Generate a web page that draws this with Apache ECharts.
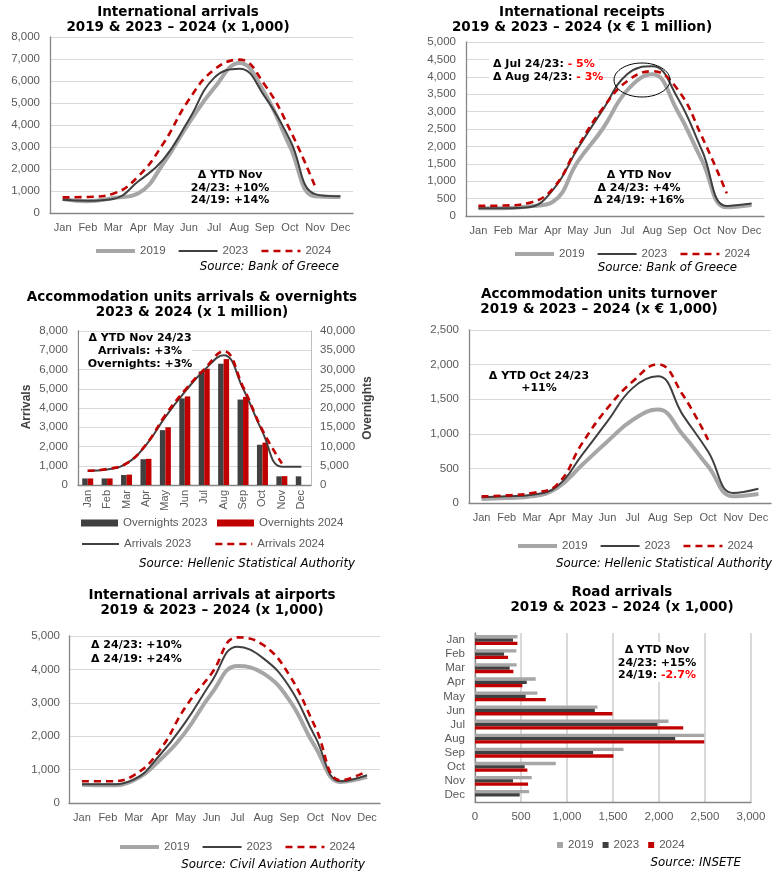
<!DOCTYPE html>
<html><head><meta charset="utf-8">
<script src="https://cdn.jsdelivr.net/npm/echarts/dist/echarts.min.js"></script>
<style>
html,body{margin:0;padding:0;background:#fff;width:778px;height:876px;overflow:hidden;}
.p{position:absolute;}
</style></head><body>
<div id="c1" class="p" style="left:0;top:0;width:389px;height:285px"></div>
<div id="c2" class="p" style="left:389px;top:0;width:389px;height:285px"></div>
<div id="c3" class="p" style="left:0;top:285px;width:389px;height:295px"></div>
<div id="c4" class="p" style="left:389px;top:285px;width:389px;height:295px"></div>
<div id="c5" class="p" style="left:0;top:580px;width:389px;height:296px"></div>
<div id="c6" class="p" style="left:389px;top:580px;width:389px;height:296px"></div>
<script>
// ---------- DATA ----------
const months = ['Jan','Feb','Mar','Apr','May','Jun','Jul','Aug','Sep','Oct','Nov','Dec'];

// International arrivals (x 1,000)
const intlArr2019 = [636, 530, 680, 900, 2270, 4090, 5680, 6820, 5450, 3030, 760, 730];
const intlArr2023 = [600, 560, 640, 1440, 2450, 4240, 6140, 6560, 5300, 3330, 860, 760];
const intlArr2024 = [710, 730, 880, 1670, 3180, 5150, 6515, 6970, 5830, 3790, 1200];

// International receipts (x EUR 1 million)
const receipts2019 = [220, 220, 270, 410, 1560, 2500, 3620, 4070, 3040, 1600, 250, 315];
const receipts2023 = [220, 220, 250, 750, 1940, 3040, 4080, 4300, 3420, 1890, 290, 360];
const receipts2024 = [290, 300, 370, 790, 1990, 3090, 3880, 4160, 3660, 2280, 650];

// Accommodation units arrivals (left axis) & overnights (right axis)
const accArrivals2023 = [743, 810, 1120, 2070, 3540, 4840, 5960, 6740, 5010, 2760, 950, 950];
const accArrivals2024 = [740, 830, 1120, 2100, 3630, 4920, 6010, 6950, 5100, 2850, 1120];
const accOvernights2023 = [1700, 1700, 2600, 6700, 14250, 22500, 29500, 31500, 22200, 10450, 2250, 2250];
const accOvernights2024 = [1700, 1700, 2700, 6800, 15000, 23000, 30200, 32700, 22900, 11000, 2300];

// Accommodation units turnover (x EUR 1,000)
const turnover2019 = [58, 72, 96, 216, 553, 890, 1200, 1350, 985, 530, 96, 130];
const turnover2023 = [82, 96, 120, 240, 700, 1180, 1660, 1830, 1270, 745, 145, 207];
const turnover2024 = [96, 110, 144, 265, 865, 1370, 1755, 2005, 1560, 913];

// International arrivals at airports (x 1,000)
const airports2019 = [550, 530, 680, 1280, 2130, 3280, 4100, 3880, 3080, 1680, 630, 780];
const airports2023 = [560, 560, 700, 1430, 2430, 3630, 4680, 4330, 3480, 1980, 650, 830];
const airports2024 = [650, 650, 830, 1580, 2880, 3880, 4960, 4730, 3830, 2280, 680, 950];

// Road arrivals (x 1,000)
const road2019 = [461, 450, 453, 660, 678, 1331, 2104, 2492, 1614, 878, 617, 588];
const road2023 = [413, 316, 377, 562, 551, 1302, 1984, 2176, 1284, 540, 413, 486];
const road2024 = [461, 359, 417, 515, 769, 1494, 2263, 2492, 1505, 569, 577];

// ---------- STYLES ----------
const FV = '"DejaVu Sans", Verdana, sans-serif';
const FA = '"Liberation Sans", Arial, sans-serif';
const C19 = '#a6a6a6', C23 = '#404040', C24 = '#c00000';
const GRIDC = '#d9d9d9', AXISC = '#868686', LBL = '#595959', RED = '#ff0000';
const LS19 = {color: C19, width: 4};
const LS23 = {color: C23, width: 2};
const LS24 = {color: C24, width: 2.6, type: [7, 5]};
const fmt = v => v.toLocaleString('en-US');

function txt(x, y, text, o) {
  o = o || {};
  return {
    type: 'text', x: x, y: y, rotation: o.rot || 0, z: 100,
    style: Object.assign({
      text: text,
      fontFamily: o.ff || FV,
      fontSize: o.fs || 11,
      fontWeight: o.fw || 'bold',
      fontStyle: o.fst || 'normal',
      fill: o.fill || '#000',
      textAlign: o.align || 'center',
      textVerticalAlign: 'middle',
      align: o.align || 'center',
      verticalAlign: 'middle',
      lineHeight: o.lh || 13
    }, o.extra || {})
  };
}
function titleEls(cx, y1, l1, l2) {
  return [txt(cx, y1, l1, {fs: 13.5}), txt(cx, y1 + 15.5, l2, {fs: 13.5})];
}
function sourceEl(rx, y, text) {
  return txt(rx, y, text, {fs: 11.8, fw: 'normal', fst: 'italic', align: 'right'});
}
function lineSer(name, data, kind, yIdx) {
  const ls = kind === 19 ? LS19 : kind === 23 ? LS23 : LS24;
  return {
    name: name, type: 'line', data: data, smooth: 0.45, symbol: 'none',
    yAxisIndex: yIdx || 0,
    lineStyle: ls, itemStyle: {color: ls.color}, z: kind === 24 ? 5 : (kind === 23 ? 4 : 3)
  };
}
function catAxis(margin) {
  return {
    type: 'category', data: months, boundaryGap: true,
    axisLine: {lineStyle: {color: AXISC, width: 1.3}},
    axisTick: {show: false},
    axisLabel: {color: LBL, fontFamily: FA, fontSize: 11, margin: margin, interval: 0}
  };
}
function valAxis(max, interval, margin) {
  return {
    type: 'value', min: 0, max: max, interval: interval,
    axisLine: {show: true, lineStyle: {color: AXISC, width: 1.3}},
    axisTick: {show: false},
    splitLine: {lineStyle: {color: GRIDC, width: 1}},
    axisLabel: {color: LBL, fontFamily: FA, fontSize: 11.5, margin: margin, formatter: fmt}
  };
}
function lineLegend(left, top) {
  return {
    data: [
      {name: '2019', lineStyle: LS19},
      {name: '2023', lineStyle: LS23},
      {name: '2024', lineStyle: LS24}
    ],
    left: left, top: top, itemWidth: 39, itemHeight: 8,
    itemGap: 12, selectedMode: false,
    itemStyle: {opacity: 0},
    textStyle: {color: LBL, fontFamily: FA, fontSize: 11.5}
  };
}
function init(id) {
  return echarts.init(document.getElementById(id), null, {renderer: 'canvas'});
}

// ---------- PANEL 1 ----------
init('c1').setOption({
  animation: false,
  grid: {left: 50, top: 37, width: 303, height: 176},
  xAxis: catAxis(9),
  yAxis: valAxis(8000, 1000, 10),
  legend: lineLegend(89, 240),
  series: [
    lineSer('2019', intlArr2019, 19),
    lineSer('2023', intlArr2023, 23),
    lineSer('2024', intlArr2024, 24)
  ],
  graphic: [].concat(
    titleEls(178, 12, 'International arrivals', '2019 & 2023 \u2013 2024 (x 1,000)'),
    [txt(230, 188, '\u0394 YTD Nov\n24/23: +10%\n24/19: +14%', {fs: 11, lh: 12.5}),
     sourceEl(339, 267, 'Source: Bank of Greece')]
  )
});

// ---------- PANEL 2 ----------
init('c2').setOption({
  animation: false,
  grid: {left: 77, top: 42, width: 298, height: 174},
  xAxis: catAxis(9),
  yAxis: valAxis(5000, 500, 10),
  legend: lineLegend(119, 243),
  series: [
    lineSer('2019', receipts2019, 19),
    lineSer('2023', receipts2023, 23),
    lineSer('2024', receipts2024, 24)
  ],
  graphic: [].concat(
    titleEls(193, 12, 'International receipts', '2019 & 2023 \u2013 2024 (x \u20ac 1 million)'),
    [
      {type: 'rect', shape: {x: 100, y: 55, width: 110, height: 29}, style: {fill: '#fff'}, z: 90},
      {type: 'text', x: 104, y: 64, z: 100, style: {
        text: '{b|\u0394 Jul 24/23: }{r|- 5%}', textAlign: 'left', textVerticalAlign: 'middle',
        align: 'left', verticalAlign: 'middle',
        rich: {b: {fontFamily: FV, fontSize: 11, fontWeight: 'bold', fill: '#000', color: '#000'},
               r: {fontFamily: FV, fontSize: 11, fontWeight: 'bold', fill: RED, color: RED}}}},
      {type: 'text', x: 104, y: 77, z: 100, style: {
        text: '{b|\u0394 Aug 24/23: }{r|- 3%}', textAlign: 'left', textVerticalAlign: 'middle',
        align: 'left', verticalAlign: 'middle',
        rich: {b: {fontFamily: FV, fontSize: 11, fontWeight: 'bold', fill: '#000', color: '#000'},
               r: {fontFamily: FV, fontSize: 11, fontWeight: 'bold', fill: RED, color: RED}}}},
      {type: 'ellipse', shape: {cx: 253, cy: 80, rx: 28, ry: 17}, style: {fill: 'none', stroke: '#000', lineWidth: 1}, z: 100},
      txt(250, 188, '\u0394 YTD Nov\n\u0394 24/23: +4%\n\u0394 24/19: +16%', {fs: 11, lh: 12.5}),
      sourceEl(348, 268, 'Source: Bank of Greece')
    ]
  )
});

// ---------- PANEL 3 ----------
const c3 = init('c3');
const legTxt = {color: LBL, fontFamily: FA, fontSize: 11.5};
c3.setOption({
  animation: false,
  grid: {left: 78, top: 46, width: 233, height: 154},
  xAxis: Object.assign(catAxis(5), {
    axisLabel: {color: LBL, fontFamily: FA, fontSize: 11, margin: 5, interval: 0, rotate: 90}
  }),
  yAxis: [
    valAxis(8000, 1000, 10),
    {
      type: 'value', min: 0, max: 40000, interval: 5000, position: 'right',
      axisLine: {show: true, lineStyle: {color: '#bfbfbf', width: 1}},
      axisTick: {show: false}, splitLine: {show: false},
      axisLabel: {color: LBL, fontFamily: FA, fontSize: 11.5, margin: 9, formatter: fmt}
    }
  ],
  legend: [
    {data: ['Overnights 2023'], left: 76, top: 227, itemWidth: 37, itemHeight: 7, icon: 'rect', selectedMode: false, textStyle: legTxt},
    {data: ['Overnights 2024'], left: 212, top: 227, itemWidth: 37, itemHeight: 7, icon: 'rect', selectedMode: false, textStyle: legTxt},
    {data: [{name: 'Arrivals 2023', lineStyle: LS23}], left: 76, top: 248, itemWidth: 37, itemHeight: 8, selectedMode: false, itemStyle: {opacity: 0}, textStyle: legTxt},
    {data: [{name: 'Arrivals 2024', lineStyle: LS24}], left: 209, top: 248, itemWidth: 37, itemHeight: 8, selectedMode: false, itemStyle: {opacity: 0}, textStyle: legTxt}
  ],
  series: [
    {name: 'Overnights 2023', type: 'bar', yAxisIndex: 1, data: accOvernights2023, barWidth: 5.5, barGap: '0%', itemStyle: {color: C23}},
    {name: 'Overnights 2024', type: 'bar', yAxisIndex: 1, data: accOvernights2024, barWidth: 5.5, barGap: '0%', itemStyle: {color: C24}},
    lineSer('Arrivals 2023', accArrivals2023, 23, 0),
    lineSer('Arrivals 2024', accArrivals2024, 24, 0)
  ],
  graphic: [].concat(
    titleEls(192, 12, 'Accommodation units arrivals & overnights', '2023 & 2024 (x 1 million)'),
    [
      {type: 'rect', shape: {x: 79, y: 47, width: 113, height: 37}, style: {fill: '#fff'}, z: 90},
      txt(140, 66, '\u0394 YTD Nov 24/23\nArrivals: +3%\nOvernights: +3%', {fs: 11, lh: 13}),
      txt(27, 122, 'Arrivals', {ff: FA, fs: 12, fill: '#404040', rot: Math.PI / 2}),
      txt(368, 123, 'Overnights', {ff: FA, fs: 12, fill: '#404040', rot: Math.PI / 2}),
      sourceEl(355, 279, 'Source: Hellenic Statistical Authority')
    ]
  )
});

// ---------- PANEL 4 ----------
init('c4').setOption({
  animation: false,
  grid: {left: 80, top: 45, width: 302, height: 173},
  xAxis: catAxis(9),
  yAxis: valAxis(2500, 500, 10),
  legend: lineLegend(122, 250),
  series: [
    lineSer('2019', turnover2019, 19),
    lineSer('2023', turnover2023, 23),
    lineSer('2024', turnover2024, 24)
  ],
  graphic: [].concat(
    titleEls(210, 9, 'Accommodation units turnover', '2019 & 2023 \u2013 2024 (x \u20ac 1,000)'),
    [txt(150, 97, '\u0394 YTD Oct 24/23\n+11%', {fs: 11, lh: 12.5}),
     sourceEl(383, 279, 'Source: Hellenic Statistical Authority')]
  )
});

// ---------- PANEL 5 ----------
init('c5').setOption({
  animation: false,
  grid: {left: 69, top: 56, width: 311, height: 167},
  xAxis: catAxis(9),
  yAxis: valAxis(5000, 1000, 9),
  legend: lineLegend(113, 256),
  series: [
    lineSer('2019', airports2019, 19),
    lineSer('2023', airports2023, 23),
    lineSer('2024', airports2024, 24)
  ],
  graphic: [].concat(
    titleEls(212, 15, 'International arrivals at airports', '2019 & 2023 \u2013 2024 (x 1,000)'),
    [txt(91, 72, '\u0394 24/23: +10%\n\u0394 24/19: +24%', {fs: 11, lh: 14, align: 'left'}),
     sourceEl(365, 285, 'Source: Civil Aviation Authority')]
  )
});

// ---------- PANEL 6 ----------
init('c6').setOption({
  animation: false,
  grid: {left: 86, top: 53, width: 276, height: 169},
  xAxis: {
    type: 'value', min: 0, max: 3000, interval: 500,
    axisLine: {show: true, lineStyle: {color: AXISC, width: 1.3}},
    axisTick: {show: false},
    splitLine: {lineStyle: {color: GRIDC, width: 2}},
    axisLabel: {color: LBL, fontFamily: FA, fontSize: 11.5, margin: 9, formatter: fmt}
  },
  yAxis: {
    type: 'category', data: months, inverse: true,
    axisLine: {lineStyle: {color: AXISC, width: 1.3}},
    axisTick: {show: false},
    axisLabel: {color: LBL, fontFamily: FA, fontSize: 11.5, margin: 10, interval: 0}
  },
  legend: {
    data: ['2019', '2023', '2024'], left: 163, top: 254, itemWidth: 6, itemHeight: 6, itemGap: 9,
    icon: 'rect', selectedMode: false,
    textStyle: {color: LBL, fontFamily: FA, fontSize: 11.5}
  },
  series: [
    {name: '2019', type: 'bar', data: road2019, barWidth: 3.3, barGap: '0%', itemStyle: {color: C19}},
    {name: '2023', type: 'bar', data: road2023, barWidth: 3.3, barGap: '0%', itemStyle: {color: C23}},
    {name: '2024', type: 'bar', data: road2024, barWidth: 3.3, barGap: '0%', itemStyle: {color: C24}}
  ],
  graphic: [].concat(
    titleEls(233, 12, 'Road arrivals', '2019 & 2023 \u2013 2024 (x 1,000)'),
    [
      {type: 'rect', shape: {x: 225, y: 62, width: 88, height: 40}, style: {fill: '#fff'}, z: 90},
      txt(268, 70, '\u0394 YTD Nov', {fs: 11}),
      txt(268, 83, '24/23: +15%', {fs: 11}),
      {type: 'text', x: 268, y: 95, z: 100, style: {
        text: '{b|24/19: }{r|-2.7%}', textAlign: 'center', textVerticalAlign: 'middle',
        align: 'center', verticalAlign: 'middle',
        rich: {b: {fontFamily: FV, fontSize: 11, fontWeight: 'bold', fill: '#000', color: '#000'},
               r: {fontFamily: FV, fontSize: 11, fontWeight: 'bold', fill: RED, color: RED}}}},
      sourceEl(352, 283, 'Source: INSETE')
    ]
  )
});
</script>
</body></html>
